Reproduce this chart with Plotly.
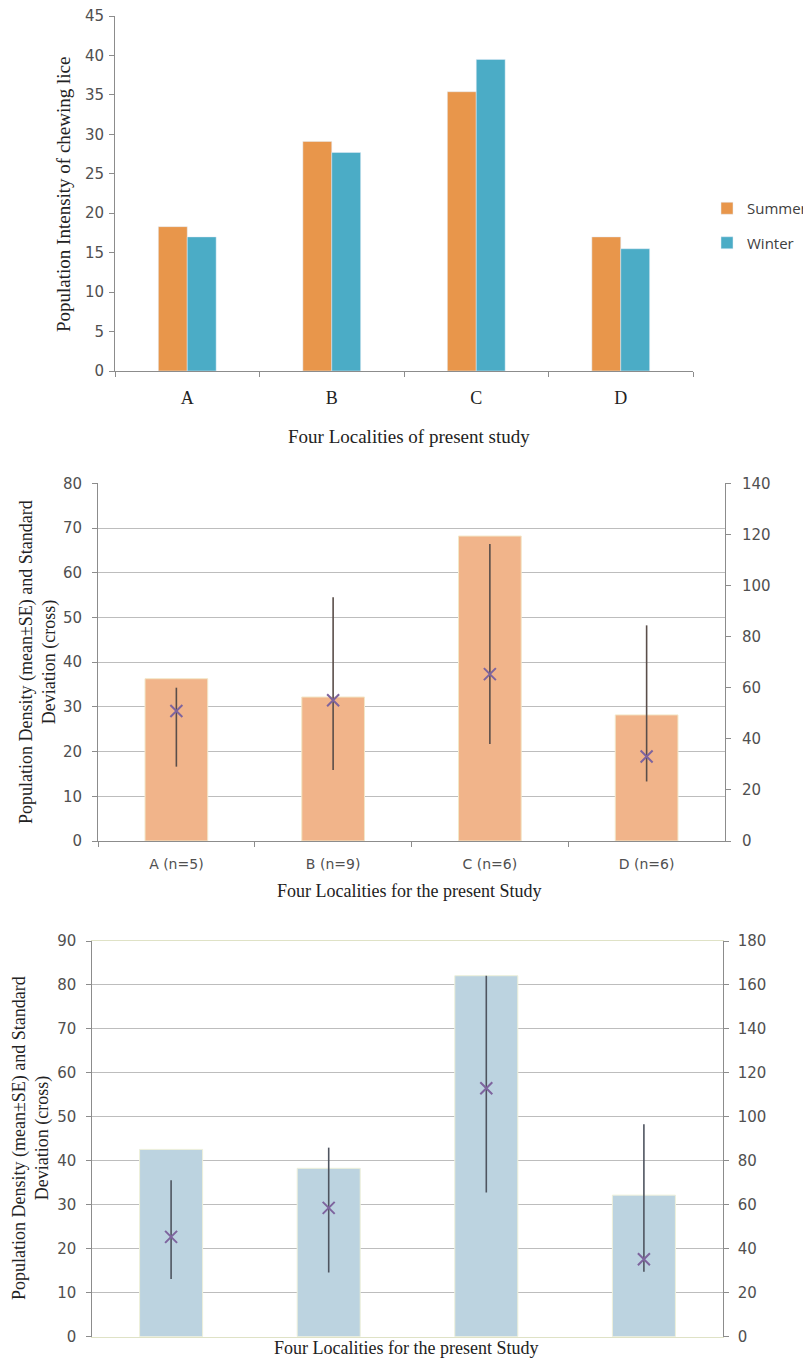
import plotly.graph_objects as go

# ---------- data ----------
localities = ["A", "B", "C", "D"]
summer = [18.3, 29.1, 35.4, 17.0]
winter = [17.0, 27.7, 39.5, 15.5]

# middle chart: bars on left axis (0-80); crosses / SD lines on right axis (0-140)
mid_labels = ["A (n=5)", "B (n=9)", "C (n=6)", "D (n=6)"]
mid_bars = [36.3, 32.2, 68.2, 28.2]
mid_cross = [50.9, 55.1, 65.3, 33.1]
mid_high = [60.0, 95.4, 116.2, 84.4]
mid_low = [29.1, 27.8, 38.0, 23.3]

# bottom chart: bars on left axis (0-90); crosses / SD lines on right axis (0-180)
bot_bars = [42.6, 38.3, 82.1, 32.2]
bot_cross = [45.4, 58.6, 113.0, 35.2]
bot_high = [71.2, 86.0, 164.2, 96.6]
bot_low = [26.2, 29.2, 65.6, 29.6]

W, H = 803, 1361
def px(x): return x / W
def py(y): return 1 - y / H

SERIF = "Liberation Serif"
NUM = "DejaVu Sans"
TICKC = "#505050"
AXC = "#8c8c8c"
GRIDC = "#bdbdbd"

fig = go.Figure()

# ---------- top chart ----------
fig.add_trace(go.Bar(x=localities, y=summer, name="Summer", marker_color="#E8964B",
                     xaxis="x", yaxis="y", legendgroup="s"))
fig.add_trace(go.Bar(x=localities, y=winter, name="Winter", marker_color="#4BACC6",
                     xaxis="x", yaxis="y", legendgroup="w"))

# ---------- middle chart ----------
fig.add_trace(go.Bar(x=mid_labels, y=mid_bars,
                     marker=dict(color="#F1B48A", line=dict(color="#F3E7C8", width=1)),
                     xaxis="x2", yaxis="y2", showlegend=False))
fig.add_trace(go.Scatter(x=mid_labels, y=mid_cross, mode="markers",
                         marker=dict(symbol="x-thin", size=12, line=dict(width=2, color="#7E649E")),
                         error_y=dict(type="data", symmetric=False,
                                      array=[h - c for h, c in zip(mid_high, mid_cross)],
                                      arrayminus=[c - l for c, l in zip(mid_cross, mid_low)],
                                      color="#5a4e4a", thickness=1.6, width=0),
                         xaxis="x2", yaxis="y3", showlegend=False))

# ---------- bottom chart ----------
fig.add_trace(go.Bar(x=localities, y=bot_bars,
                     marker=dict(color="#BCD3E0", line=dict(color="#EEF0DA", width=1)),
                     xaxis="x3", yaxis="y4", showlegend=False))
fig.add_trace(go.Scatter(x=localities, y=bot_cross, mode="markers",
                         marker=dict(symbol="x-thin", size=12, line=dict(width=2, color="#7E649E")),
                         error_y=dict(type="data", symmetric=False,
                                      array=[h - c for h, c in zip(bot_high, bot_cross)],
                                      arrayminus=[c - l for c, l in zip(bot_cross, bot_low)],
                                      color="#4f5560", thickness=1.6, width=0),
                         xaxis="x3", yaxis="y5", showlegend=False))

tick_common = dict(ticks="outside", ticklen=5, tickcolor=AXC, showline=True, linecolor=AXC, linewidth=1)
numfont = dict(family=NUM, size=15, color=TICKC)

fig.update_layout(
    width=W, height=H,
    margin=dict(l=0, r=0, t=0, b=0, autoexpand=False),
    paper_bgcolor="white", plot_bgcolor="white",
    barmode="group", bargap=0.6, bargroupgap=0,
    showlegend=True,
    legend=dict(x=px(707), y=py(192), xanchor="left", yanchor="top",
                font=dict(family="Open Sans", size=15, color="#404040"),
                tracegroupgap=12, bgcolor="rgba(0,0,0,0)"),
    # top
    xaxis=dict(domain=[px(115), px(693)], anchor="y", type="category",
               tickson="boundaries", tickfont=dict(family=SERIF, size=18, color="#222"),
               ticklabelstandoff=10, showgrid=False, **tick_common),
    yaxis=dict(domain=[py(371), py(16)], anchor="x", range=[0, 45], dtick=5,
               tickfont=numfont, ticklabelstandoff=2, showgrid=False, zeroline=False, **tick_common),
    # middle
    xaxis2=dict(domain=[px(98), px(725)], anchor="y2", type="category",
                tickson="boundaries", tickfont=dict(family=NUM, size=14, color=TICKC),
                ticklabelstandoff=10, showgrid=False, **tick_common),
    yaxis2=dict(domain=[py(841), py(483.3)], anchor="x2", range=[0, 80], dtick=10,
                tickfont=numfont, ticklabelstandoff=7, showgrid=True, gridcolor=GRIDC,
                zeroline=False, **tick_common),
    yaxis3=dict(overlaying="y2", anchor="x2", side="right", range=[0, 140], dtick=20,
                tickfont=numfont, ticklabelstandoff=8, showgrid=False, zeroline=False, **tick_common),
    # bottom
    xaxis3=dict(domain=[px(92.3), px(722.7)], anchor="y4", type="category",
                showticklabels=False, ticks="", showline=True, mirror=True,
                linecolor="#dfe2c6", showgrid=False),
    yaxis4=dict(domain=[py(1336.7), py(941)], anchor="x3", range=[0, 90], dtick=10,
                tickfont=numfont, ticklabelstandoff=7, showgrid=True, gridcolor=GRIDC,
                zeroline=False, **tick_common),
    yaxis5=dict(overlaying="y4", anchor="x3", side="right", range=[0, 180], dtick=20,
                tickfont=numfont, ticklabelstandoff=6, showgrid=False, zeroline=False, **tick_common),
)

annos = [
    dict(text="Population Intensity of chewing lice", x=px(64), y=py(195),
         textangle=-90, font=dict(family=SERIF, size=19, color="#222")),
    dict(text="Four Localities of present study", x=px(409), y=py(437),
         font=dict(family=SERIF, size=19, color="#222")),
    dict(text="Population Density (mean±SE) and Standard<br>Deviation (cross)", x=px(38), y=py(662),
         textangle=-90, font=dict(family=SERIF, size=18, color="#222")),
    dict(text="Four Localities for the present Study", x=px(409), y=py(891),
         font=dict(family=SERIF, size=18, color="#222")),
    dict(text="Population Density (mean±SE) and Standard<br>Deviation (cross)", x=px(31), y=py(1138),
         textangle=-90, font=dict(family=SERIF, size=18, color="#222")),
    dict(text="Four Localities for the present Study", x=px(406), y=py(1348),
         font=dict(family=SERIF, size=18, color="#222")),
]
for a in annos:
    fig.add_annotation(xref="paper", yref="paper", showarrow=False,
                       xanchor="center", yanchor="middle", **a)

fig.write_html("out.html", config={"displayModeBar": False},
               post_script="document.body.style.margin='0px';")
